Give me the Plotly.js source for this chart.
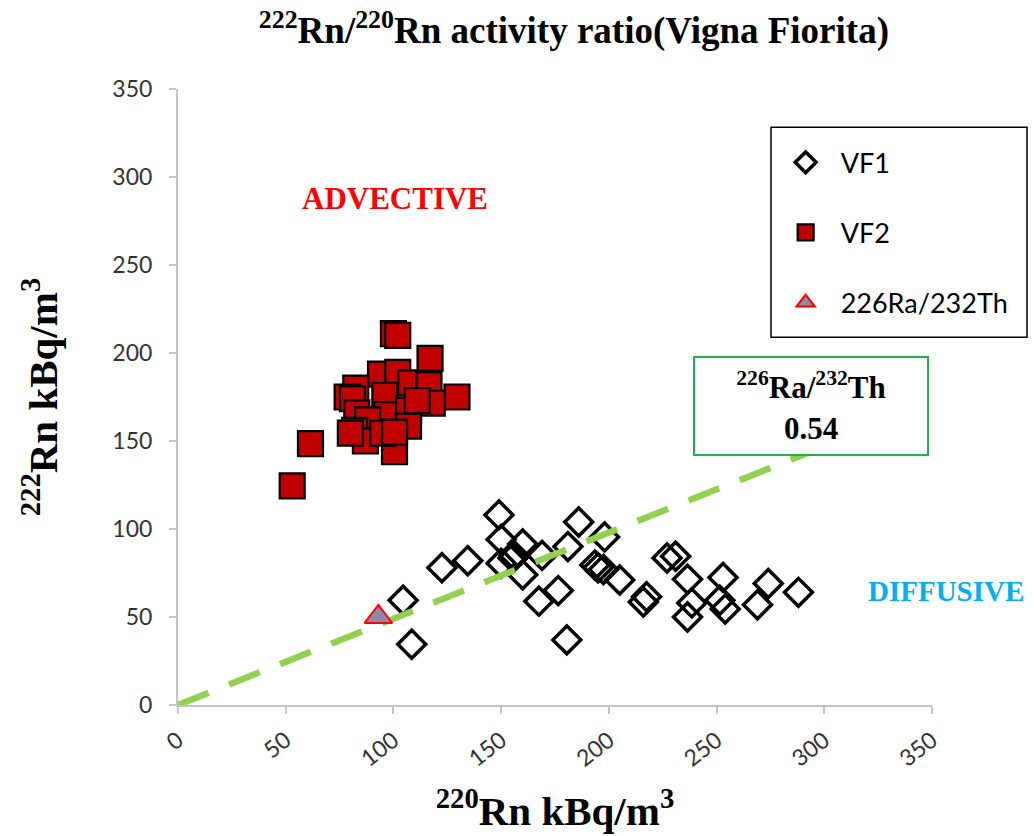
<!DOCTYPE html>
<html>
<head>
<meta charset="utf-8">
<script src="https://cdn.plot.ly/plotly-3.0.1.min.js"></script>
<style>
  html, body { margin: 0; padding: 0; background: #ffffff; }
  #chart { width: 1034px; height: 836px; }
</style>
</head>
<body>
<div id="chart"></div>
<script>
// VF1 site: 220Rn vs 222Rn (kBq/m3)
const vf1X = [149, 186, 198, 150, 160, 181, 169, 156, 155.5, 122.5, 134.5, 150, 160, 193.5, 195, 197.5, 205, 176.5, 167.5, 217.5, 216, 227, 231, 236.5, 253, 238.5, 236.5, 251.5, 254, 274, 269, 288, 180.5, 108.5, 104.5];
const vf1Y = [108, 104, 95.5, 94, 91.5, 90, 85, 85, 83.5, 78, 82, 80.5, 74, 79.5, 78, 77, 71, 65, 59, 61.5, 58.5, 83.5, 84.5, 71.5, 72.5, 58, 50, 59.5, 54.5, 69, 57, 64, 37, 34.5, 59.5];

// VF2 site
const vf2X = [100, 102, 117, 94, 102, 108, 116.5, 129.5, 118, 82.5, 78.5, 81, 96, 97, 83, 88, 82, 107, 107, 111, 87, 100.5, 95, 100.5, 80, 61.5, 53];
const vf2Y = [211, 210, 197, 188, 189, 183, 182, 175, 171.5, 180, 175, 174, 176, 165, 166, 162, 156, 167.5, 158.5, 173, 150, 144, 154.5, 155, 154.5, 148.5, 124.5];

// 226Ra/232Th reference point and the ratio line through the origin
const raThX = [93];
const raThY = [50];
const ratioLabel = "0.54";
const lineX = [0, 300];
const lineY = [0, 147];

const tickVals = [0, 50, 100, 150, 200, 250, 300, 350];

const serif = "'Liberation Serif', 'Times New Roman', serif";
const sans = "Lato, 'Open Sans', sans-serif";

const traces = [
  {
    x: vf1X, y: vf1Y, name: "VF1", type: "scatter", mode: "markers",
    legendgroup: "a", legendrank: 1,
    marker: { symbol: "diamond-open", size: 21.5, color: "#000000", line: { width: 3.5, color: "#000000" } },
    cliponaxis: false
  },
  {
    x: vf2X, y: vf2Y, name: "VF2", type: "scatter", mode: "markers",
    legendgroup: "b", legendrank: 2,
    marker: { symbol: "square", size: 25, color: "#C00000", line: { width: 2.2, color: "#000000" } }
  },
  {
    x: lineX, y: lineY, type: "scatter", mode: "lines", showlegend: false,
    hoverinfo: "skip",
    line: { color: "#92D050", width: 6.5, dash: "33px,22px" }
  },
  {
    x: raThX, y: raThY, name: "226Ra/232Th", type: "scatter", mode: "markers",
    legendgroup: "c", legendrank: 3,
    marker: { symbol: "triangle-up", size: 24, color: "#8C8AA6", line: { width: 2, color: "#FF0000" } }
  }
];

const layout = {
  width: 1034, height: 836,
  paper_bgcolor: "#ffffff", plot_bgcolor: "#ffffff",
  margin: { l: 178, r: 102, t: 89, b: 131, autoexpand: false },
  title: {
    text: "<b><sup>222</sup>Rn/<sup>220</sup>Rn activity ratio(Vigna Fiorita)</b>",
    font: { family: serif, size: 37, color: "#000000" },
    x: 0.555, xanchor: "center", xref: "container",
    y: 0.964, yanchor: "middle", yref: "container"
  },
  xaxis: {
    range: [0, 350], tickvals: tickVals, ticktext: tickVals.map(String),
    tickangle: -38, showgrid: false, zeroline: false,
    showline: true, linecolor: "#C4C4C4", linewidth: 2,
    ticks: "outside", ticklen: 7, tickcolor: "#C4C4C4", tickwidth: 2,
    ticklabelstandoff: 4,
    tickfont: { family: sans, size: 23, color: "#333333" },
    title: {
      text: "<b><sup>220</sup>Rn kBq/m<sup>3</sup></b>",
      font: { family: serif, size: 41, color: "#000000" },
      standoff: 26
    },
    fixedrange: true
  },
  yaxis: {
    range: [0, 350], tickvals: tickVals, ticktext: tickVals.map(String),
    showgrid: false, zeroline: false,
    showline: true, linecolor: "#C4C4C4", linewidth: 2,
    ticks: "outside", ticklen: 7, tickcolor: "#C4C4C4", tickwidth: 2,
    ticklabelstandoff: 12,
    tickfont: { family: sans, size: 23, color: "#333333" },
    title: {
      text: "<b><sup>222</sup>Rn kBq/m<sup>3</sup></b>",
      font: { family: serif, size: 41, color: "#000000" },
      standoff: 42
    },
    fixedrange: true
  },
  showlegend: true,
  legend: {
    x: 0.786, xanchor: "left", y: 0.92, yanchor: "top",
    bgcolor: "rgba(0,0,0,0)", borderwidth: 0,
    traceorder: "grouped", tracegroupgap: 32,
    itemwidth: 60,
    font: { family: sans, size: 27, color: "#000000" }
  },
  shapes: [
    {
      type: "rect", xref: "paper", yref: "paper",
      x0: 0.7865, x1: 1.126, y0: 0.597, y1: 0.938,
      line: { color: "#000000", width: 1.5 }, fillcolor: "rgba(0,0,0,0)", layer: "below"
    }
  ],
  annotations: [
    {
      x: 293.9, y: 169.9, xref: "x", yref: "y", showarrow: false,
      text: "<b><sup>226</sup>Ra/<sup>232</sup>Th<br>" + ratioLabel + "</b>",
      font: { family: serif, size: 31, color: "#000000" },
      align: "center", width: 226, height: 90,
      bgcolor: "#ffffff", bordercolor: "#22B04B", borderwidth: 2, borderpad: 3
    },
    {
      x: 100.7, y: 288, xref: "x", yref: "y", showarrow: false,
      text: "<b>ADVECTIVE</b>",
      font: { family: serif, size: 31, color: "#FF0000" }
    },
    {
      x: 1.0186, y: 65, xref: "paper", yref: "y", xanchor: "center", showarrow: false,
      text: "<b>DIFFUSIVE</b>",
      font: { family: serif, size: 29, color: "#00B0F0" }
    }
  ]
};

Plotly.newPlot("chart", traces, layout, { displayModeBar: false, staticPlot: true });
</script>
</body>
</html>
